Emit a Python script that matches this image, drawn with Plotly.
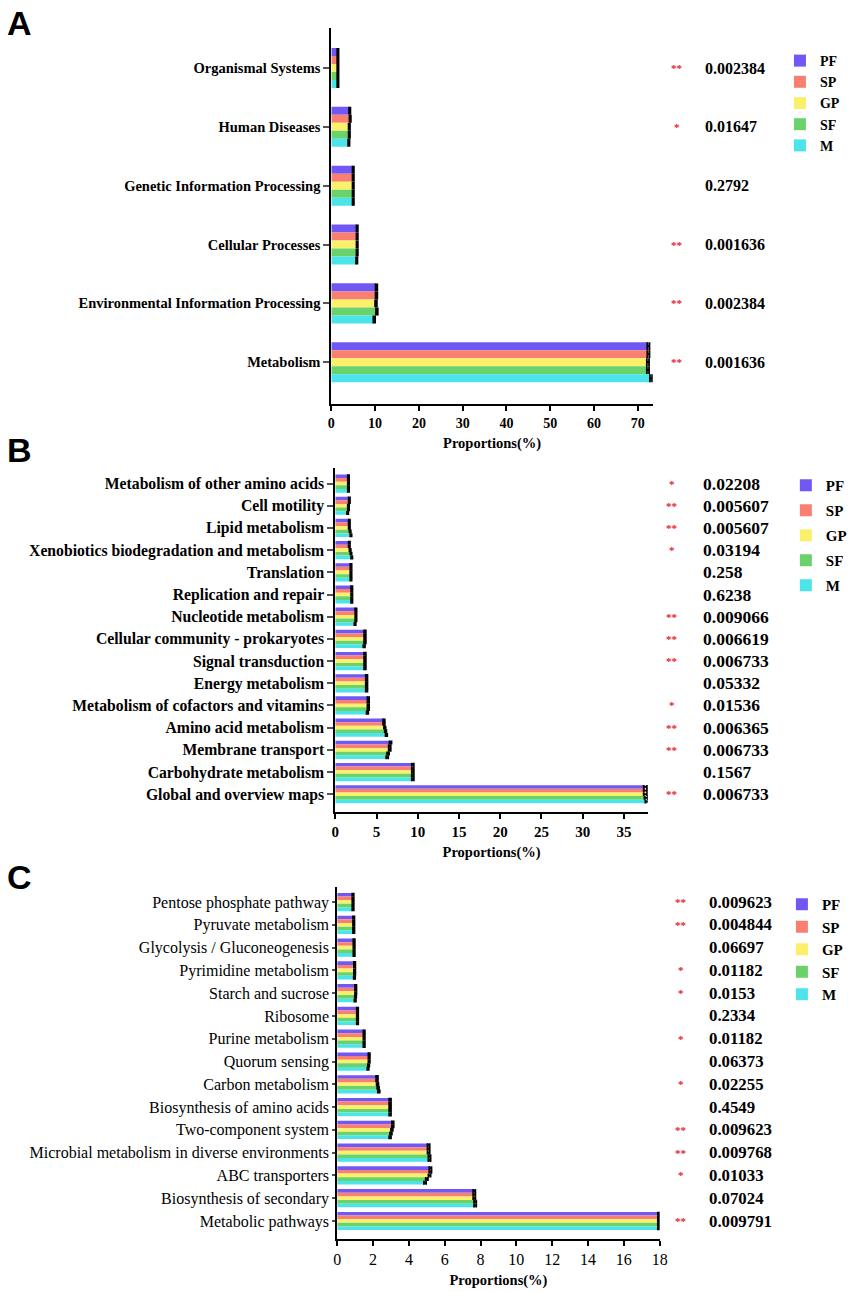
import plotly.graph_objects as go

# ---- data ----
groups = ['PF', 'SP', 'GP', 'SF', 'M']
colors = ['#7158f5', '#f98070', '#fbf06a', '#6ad26a', '#4ae4ea']

# panel A
a_categories = ['Organismal Systems', 'Human Diseases', 'Genetic Information Processing',
                'Cellular Processes', 'Environmental Information Processing', 'Metabolism']
a_pf = [1.5, 4.2, 5.0, 5.9, 10.3, 72.4]
a_sp = [1.5, 4.3, 5.0, 5.9, 10.3, 72.4]
a_gp = [1.5, 4.1, 5.0, 5.9, 10.2, 72.3]
a_sf = [1.5, 4.1, 5.0, 5.9, 10.4, 72.3]
a_m = [1.5, 4.0, 5.0, 5.8, 9.8, 73.0]
a_err = [0.15, 0.15, 0.15, 0.15, 0.2, 0.25]
a_pvals = ['0.002384', '0.01647', '0.2792', '0.001636', '0.002384', '0.001636']
a_stars = ['**', '*', '', '**', '**', '**']
a_ticks = [0, 10, 20, 30, 40, 50, 60, 70]

# panel B
b_categories = ['Metabolism of other amino acids', 'Cell motility', 'Lipid metabolism',
                'Xenobiotics biodegradation and metabolism', 'Translation',
                'Replication and repair', 'Nucleotide metabolism',
                'Cellular community - prokaryotes', 'Signal transduction', 'Energy metabolism',
                'Metabolism of cofactors and vitamins', 'Amino acid metabolism',
                'Membrane transport', 'Carbohydrate metabolism', 'Global and overview maps']
b_pf = [1.6, 1.7, 1.7, 1.7, 1.9, 2.0, 2.5, 3.6, 3.6, 3.8, 4.0, 5.9, 6.7, 9.4, 37.6]
b_sp = [1.6, 1.7, 1.7, 1.7, 1.9, 2.0, 2.5, 3.6, 3.6, 3.8, 4.0, 5.9, 6.6, 9.4, 37.6]
b_gp = [1.6, 1.6, 1.7, 1.8, 1.9, 2.0, 2.5, 3.6, 3.6, 3.8, 4.0, 6.0, 6.6, 9.4, 37.6]
b_sf = [1.6, 1.6, 1.8, 1.9, 1.9, 2.0, 2.5, 3.6, 3.6, 3.8, 4.0, 6.1, 6.4, 9.4, 37.7]
b_m = [1.6, 1.5, 1.9, 2.0, 1.9, 2.0, 2.4, 3.5, 3.6, 3.8, 3.9, 6.2, 6.3, 9.4, 37.8]
b_err = [0.08, 0.08, 0.08, 0.08, 0.08, 0.08, 0.08, 0.1, 0.1, 0.1, 0.1, 0.1, 0.12, 0.12, 0.2]
b_pvals = ['0.02208', '0.005607', '0.005607', '0.03194', '0.258', '0.6238', '0.009066',
           '0.006619', '0.006733', '0.05332', '0.01536', '0.006365', '0.006733', '0.1567',
           '0.006733']
b_stars = ['*', '**', '**', '*', '', '', '**', '**', '**', '', '*', '**', '**', '', '**']
b_ticks = [0, 5, 10, 15, 20, 25, 30, 35]

# panel C
c_categories = ['Pentose phosphate pathway', 'Pyruvate metabolism',
                'Glycolysis / Gluconeogenesis', 'Pyrimidine metabolism', 'Starch and sucrose',
                'Ribosome', 'Purine metabolism', 'Quorum sensing', 'Carbon metabolism',
                'Biosynthesis of amino acids', 'Two-component system',
                'Microbial metabolism in diverse environments', 'ABC transporters',
                'Biosynthesis of secondary', 'Metabolic pathways']
c_pf = [0.88, 0.92, 0.94, 0.97, 1.03, 1.13, 1.5, 1.78, 2.22, 2.95, 3.1, 5.1, 5.2, 7.65, 17.95]
c_sp = [0.88, 0.92, 0.94, 0.97, 1.03, 1.13, 1.5, 1.78, 2.22, 2.95, 3.1, 5.1, 5.2, 7.65, 17.95]
c_gp = [0.88, 0.92, 0.94, 0.97, 1.03, 1.13, 1.5, 1.78, 2.25, 2.95, 3.05, 5.1, 5.15, 7.65, 17.95]
c_sf = [0.88, 0.92, 0.94, 0.97, 1.02, 1.13, 1.5, 1.75, 2.28, 2.95, 3.0, 5.15, 5.0, 7.7, 17.95]
c_m = [0.88, 0.92, 0.94, 0.96, 1.0, 1.13, 1.5, 1.72, 2.32, 2.95, 2.95, 5.15, 4.9, 7.7, 17.95]
c_err = [0.04, 0.04, 0.04, 0.04, 0.04, 0.04, 0.04, 0.04, 0.05, 0.05, 0.05, 0.06, 0.06, 0.06, 0.05]
c_pvals = ['0.009623', '0.004844', '0.06697', '0.01182', '0.0153', '0.2334', '0.01182',
           '0.06373', '0.02255', '0.4549', '0.009623', '0.009768', '0.01033', '0.07024',
           '0.009791']
c_stars = ['**', '**', '', '*', '*', '', '*', '', '*', '', '**', '**', '*', '', '**']
c_ticks = [0, 2, 4, 6, 8, 10, 12, 14, 16, 18]

W, H = 854, 1292
SERIF = 'Liberation Serif'


def px_x(p):
    return p / W


def px_y(p):
    return 1 - p / H


fig = go.Figure()


def add_panel(n, categories, series, err, pvals, stars, ticks, xrange,
              xdom, ydom, ypad, group_width, cap, label_font, tick_font, ytick_len,
              pval_x, pval_size, star_x, legend_pos, legend_size, legend_gap):
    suffix = '' if n == 1 else str(n)
    legend_name = 'legend' if n == 1 else 'legend' + str(n)
    bw = group_width / len(series)
    for i, (name, vals) in enumerate(zip(groups, series)):
        fig.add_trace(go.Bar(
            x=vals, y=categories, orientation='h', name=name,
            marker=dict(color=colors[i], line=dict(width=0)),
            width=bw, offset=-group_width / 2 + i * bw,
            error_x=dict(type='data', array=err, color='black', thickness=1.8, width=cap),
            xaxis='x' + suffix, yaxis='y' + suffix,
            legend=legend_name, legendgroup=name + suffix,
        ))

    n_cat = len(categories)
    fig.update_layout(**{
        'xaxis' + suffix: dict(
            domain=[px_x(xdom[0]), px_x(xdom[1])], anchor='y' + suffix,
            range=xrange, tickvals=ticks, showline=True, linecolor='black', linewidth=2,
            ticks='outside', ticklen=5, tickwidth=2, tickcolor='black',
            showgrid=False, zeroline=False, tickfont=tick_font,
            title=dict(text='Proportions(%)', standoff=8,
                       font=dict(family=SERIF, size=14.5, color='black', weight='bold')),
        ),
        'yaxis' + suffix: dict(
            domain=[px_y(ydom[1]), px_y(ydom[0])], anchor='x' + suffix,
            type='category', categoryorder='array', categoryarray=categories,
            range=[n_cat - 1 + ypad[1], -ypad[0]],
            showline=True, linecolor='black', linewidth=2,
            ticks='outside', ticklen=ytick_len, tickwidth=1.5, tickcolor='#555',
            showgrid=False, tickfont=label_font,
        ),
        legend_name: dict(
            x=px_x(legend_pos[0]), y=px_y(legend_pos[1]), xanchor='left', yanchor='top',
            font=dict(family=SERIF, size=legend_size, color='black', weight='bold'),
            tracegroupgap=legend_gap, bgcolor='rgba(0,0,0,0)', itemclick=False,
        ),
    })

    for cat, p, s in zip(categories, pvals, stars):
        fig.add_annotation(x=px_x(pval_x), xref='paper', xanchor='left',
                           y=cat, yref='y' + suffix, text=p, showarrow=False,
                           font=dict(family=SERIF, size=pval_size, color='black', weight='bold'))
        if s:
            fig.add_annotation(x=px_x(star_x), xref='paper', xanchor='center',
                               y=cat, yref='y' + suffix, text=s, showarrow=False,
                               font=dict(family=SERIF, size=11, color='#e8202a', weight='bold'))


add_panel(1, a_categories, [a_pf, a_sp, a_gp, a_sf, a_m], a_err, a_pvals, a_stars,
          a_ticks, [0, 73.4], (332, 658), (28, 404), (0.68, 0.71), 0.68, 4,
          dict(family=SERIF, size=14.5, color='black', weight='bold'),
          dict(family=SERIF, size=14, color='black', weight='bold'), 6,
          709, 16, 683, (787, 45), 14, 0)

add_panel(2, b_categories, [b_pf, b_sp, b_gp, b_sf, b_m], b_err, b_pvals, b_stars,
          b_ticks, [0, 37.9], (336, 653), (468, 812), (0.7, 0.8), 0.82, 2,
          dict(family=SERIF, size=15.7, color='black', weight='bold'),
          dict(family=SERIF, size=15, color='black', weight='bold'), 6,
          707, 17.5, 678, (793, 469), 15, 2.5)

add_panel(3, c_categories, [c_pf, c_sp, c_gp, c_sf, c_m], c_err, c_pvals, c_stars,
          c_ticks, [0, 18], (338, 665), (887, 1239), (0.66, 0.79), 0.8, 2,
          dict(family=SERIF, size=16, color='black'),
          dict(family=SERIF, size=16, color='black'), 3,
          713, 16.8, 687, (789, 888), 15, 0)

# panel letters
for letter, ypix in [('A', 23), ('B', 450), ('C', 877)]:
    fig.add_annotation(x=px_x(1), y=px_y(ypix), xref='paper', yref='paper',
                       xanchor='left', yanchor='middle', text=letter, showarrow=False,
                       font=dict(family='Liberation Sans', size=34, color='black', weight='bold'))

fig.update_layout(
    width=W, height=H,
    margin=dict(l=0, r=0, t=0, b=0),
    barmode='overlay',
    paper_bgcolor='white', plot_bgcolor='white',
    showlegend=True,
)

# drop the page's default body margin so the figure sits at the window's corner
fig.write_html('out.html', config={'displayModeBar': False},
               post_script="document.body.style.margin = '0px';")
